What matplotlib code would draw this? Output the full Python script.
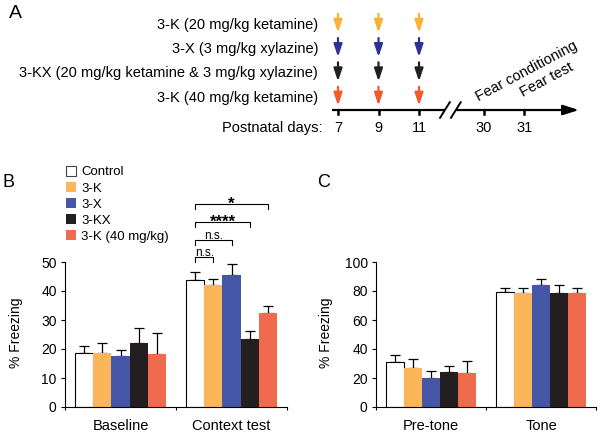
import numpy as np
import matplotlib
matplotlib.use('Agg')
import matplotlib.pyplot as plt
from matplotlib.patches import Patch

plt.rcParams['font.family'] = ['Liberation Sans', 'DejaVu Sans']

# ---- data ----
treatments = ['3-K (20 mg/kg ketamine)', '3-X (3 mg/kg xylazine)',
              '3-KX (20 mg/kg ketamine & 3 mg/kg xylazine)', '3-K (40 mg/kg ketamine)']
arrow_colors = ['#F9B233', '#2E3192', '#231F20', '#F15A29']
injection_days = [7, 9, 11]
test_days = [30, 31]

groups = ['Control', '3-K', '3-X', '3-KX', '3-K (40 mg/kg)']
bar_colors = ['white', '#FBB65A', '#4556A6', '#231F20', '#F06A4E']

phases_B = ['Baseline', 'Context test']
baseline_mean = [18.7, 18.7, 17.5, 22.0, 18.3]
baseline_sem = [2.2, 3.5, 2.2, 5.3, 7.2]
context_mean = [43.8, 42.1, 45.6, 23.4, 32.4]
context_sem = [2.6, 2.2, 3.6, 2.9, 2.6]

phases_C = ['Pre-tone', 'Tone']
pretone_mean = [31.1, 27.1, 20.2, 23.9, 23.2]
pretone_sem = [4.9, 5.8, 4.6, 4.4, 8.8]
tone_mean = [79.4, 78.4, 84.2, 78.9, 78.9]
tone_sem = [2.5, 3.5, 4.0, 4.9, 3.0]

# context test comparisons vs control
comparisons = [(0, 1, 'n.s.'), (0, 2, 'n.s.'), (0, 3, '****'), (0, 4, '*')]

fig = plt.figure(figsize=(6, 4.33), dpi=100)
W, H = 600., 433.

# ---- panel A: schedule ----
axA = fig.add_axes([0, 1 - 140 / H, 1, 140 / H])
axA.axis('off')
axA.set_xlim(-8.346, 6.469)
axA.set_ylim(4.794, -0.967)

def slot(day):
    # timeline position; days after the break are shifted
    idx = (injection_days + test_days).index(day)
    return idx + (0.6 if day in test_days else 0)

fs = 10.5
for r, (lab, col) in enumerate(zip(treatments, arrow_colors)):
    axA.text(-0.494, r + 0.05, lab, ha='right', va='center', fontsize=fs)
    for d in injection_days:
        axA.annotate('', xy=(slot(d), r + 0.38), xytext=(slot(d), r - 0.4),
                     arrowprops=dict(arrowstyle='-|>,head_length=0.75,head_width=0.25',
                                     color=col, lw=1.6, shrinkA=0, shrinkB=0))

ty = 3.56
brk = 2.79
axA.plot([-0.15, brk - 0.15], [ty, ty], color='k', lw=1.6, solid_capstyle='butt')
axA.annotate('', xy=(5.95, ty), xytext=(brk + 0.15, ty),
             arrowprops=dict(arrowstyle='-|>,head_length=0.95,head_width=0.3',
                             color='k', lw=1.6, shrinkA=0, shrinkB=0))
for dx in (-0.15, 0.12):
    axA.plot([brk + dx - 0.12, brk + dx + 0.12], [ty + 0.32, ty - 0.32],
             color='k', lw=1.4)
for d in injection_days + test_days:
    axA.plot([slot(d), slot(d)], [ty, ty + 0.18], color='k', lw=1.8)
    axA.text(slot(d), 4.3, str(d), ha='center', va='center', fontsize=fs)
axA.text(-0.395, 4.3, 'Postnatal days:', ha='right', va='center', fontsize=fs)
axA.text(slot(30) - 0.14, 3.19, 'Fear conditioning', rotation=28,
         rotation_mode='anchor', ha='left', va='baseline', fontsize=fs)
axA.text(slot(31) - 0.02, 3.02, 'Fear test', rotation=28,
         rotation_mode='anchor', ha='left', va='baseline', fontsize=fs)

# ---- panels B and C ----
w = 0.163

def bar_panel(ax, phases, means, sems, ymax, step):
    for g, (m, s) in enumerate(zip(means, sems)):
        x = g + (np.arange(len(groups)) - 2) * w
        for i in range(len(groups)):
            ax.bar(x[i], m[i], width=w, color=bar_colors[i],
                   edgecolor='k' if i == 0 else bar_colors[i],
                   linewidth=0.8 if i == 0 else 0, zorder=2)
        ax.errorbar(x, m, yerr=[np.zeros(len(s)), s], fmt='none', ecolor='k',
                    elinewidth=0.9, capsize=3.6, capthick=0.9, zorder=1)
    ax.set_xlim(-0.5, 1.5)
    ax.set_ylim(0, ymax)
    ax.set_yticks(np.arange(0, ymax + 1, step))
    ax.set_xticks([0, 1])
    ax.set_xticklabels(phases, fontsize=10.5)
    ax.set_xticks([-0.5, 0.5, 1.5], minor=True)
    ax.tick_params(axis='x', which='major', length=0, pad=9)
    ax.tick_params(axis='x', which='minor', length=2.5, width=0.8)
    ax.tick_params(axis='y', length=3, width=0.8, pad=3, labelsize=10)
    for sp in ('top', 'right'):
        ax.spines[sp].set_visible(False)
    for sp in ('left', 'bottom'):
        ax.spines[sp].set_linewidth(0.8)
    ax.set_ylabel('% Freezing', fontsize=10)

axB = fig.add_axes([65 / W, (H - 407) / H, 222 / W, 145 / H])
bar_panel(axB, phases_B, [baseline_mean, context_mean],
          [baseline_sem, context_sem], 50, 10)
axB.yaxis.set_label_coords(-0.19, 0.51)

axC = fig.add_axes([376 / W, (H - 407) / H, 220 / W, 145 / H])
bar_panel(axC, phases_C, [pretone_mean, tone_mean],
          [pretone_sem, tone_sem], 100, 20)
axC.yaxis.set_label_coords(-0.195, 0.51)

# significance brackets on context test
levels = [51.7, 57.6, 63.7, 70.0]
for (a, b, lab), yl in zip(comparisons, levels):
    xa = 1 + (a - 2) * w
    xb = 1 + (b - 2) * w
    axB.plot([xa, xa, xb, xb], [yl - 1.6, yl, yl, yl - 1.6], color='k',
             lw=0.8, clip_on=False)
    if lab == 'n.s.':
        axB.text((xa + xb) / 2, yl + 0.35, lab, ha='center', va='baseline',
                 fontsize=8.5)
    else:
        axB.text((xa + xb) / 2, yl - 1.6, lab, ha='center', va='baseline',
                 fontsize=12, fontweight='bold')

handles = [Patch(facecolor=c, edgecolor='#444444' if i == 0 else c,
                 linewidth=0.8 if i == 0 else 0) for i, c in enumerate(bar_colors)]
fig.legend(handles, groups, loc='upper left', bbox_to_anchor=(66 / W, 1 - 166 / H),
           frameon=False, fontsize=9.5, handlelength=0.76, handleheight=0.76,
           handletextpad=0.4, labelspacing=0.27, borderpad=0, borderaxespad=0)

fig.text(15 / W, 1 - 13.5 / H, 'A', ha='center', va='center', fontsize=14)
fig.text(9 / W, 1 - 183 / H, 'B', ha='center', va='center', fontsize=13)
fig.text(324 / W, 1 - 183 / H, 'C', ha='center', va='center', fontsize=13)

fig.savefig('out.png', dpi=100)
